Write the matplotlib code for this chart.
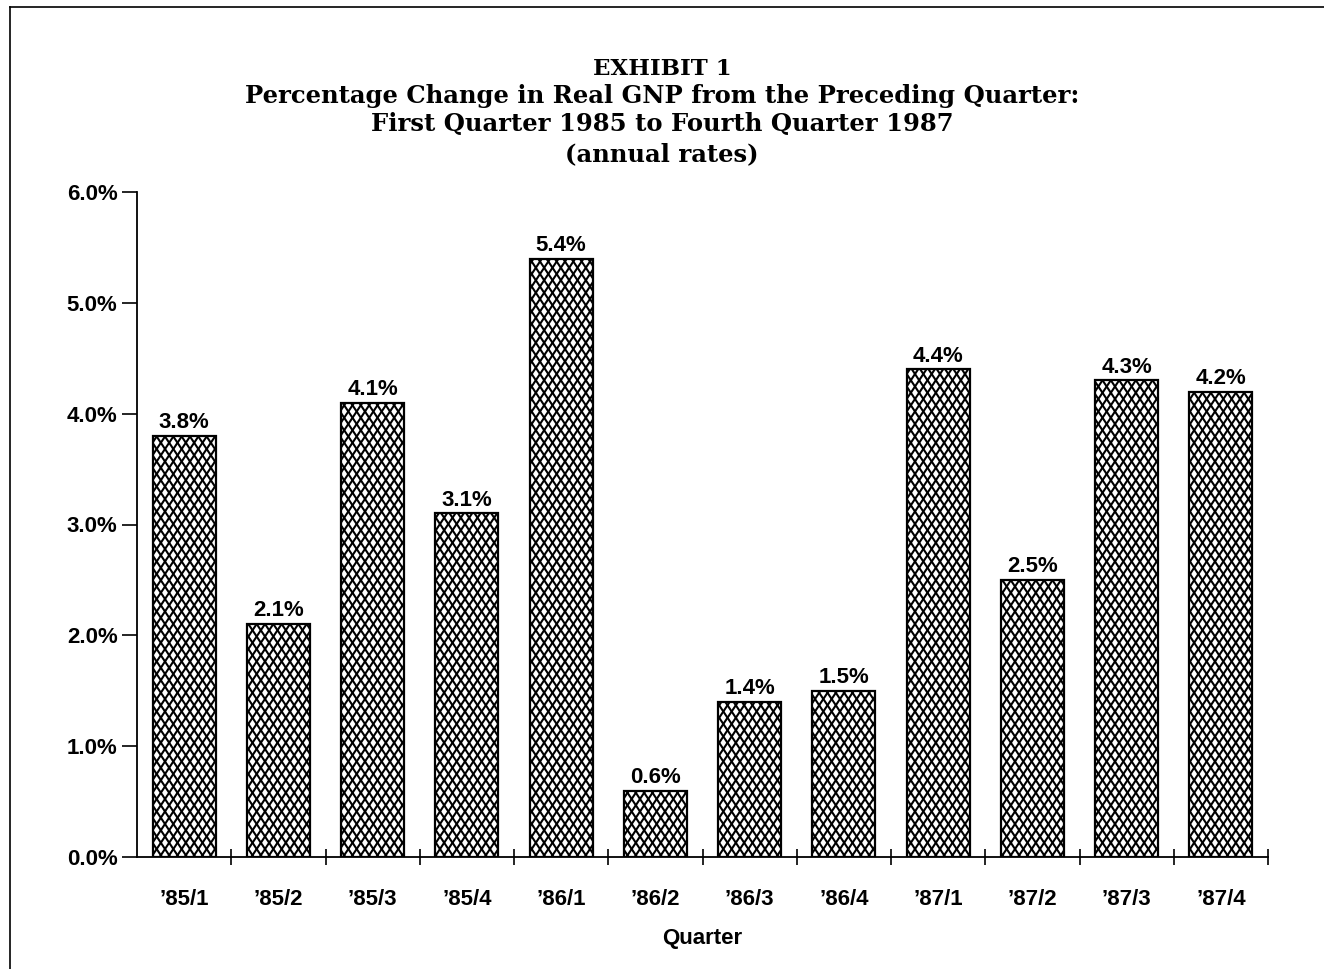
import matplotlib
matplotlib.use("Agg")
import matplotlib.pyplot as plt
from matplotlib.lines import Line2D
from matplotlib.collections import LineCollection
from matplotlib.transforms import IdentityTransform
import numpy as np

quarters = ["\u201985/1", "\u201985/2", "\u201985/3", "\u201985/4",
            "\u201986/1", "\u201986/2", "\u201986/3", "\u201986/4",
            "\u201987/1", "\u201987/2", "\u201987/3", "\u201987/4"]
gnp_change = [3.8, 2.1, 4.1, 3.1, 5.4, 0.6, 1.4, 1.5, 4.4, 2.5, 4.3, 4.2]
y_ticks = [0.0, 1.0, 2.0, 3.0, 4.0, 5.0, 6.0]

SANS = ["Liberation Sans", "DejaVu Sans"]
SERIF = ["DejaVu Serif"]
LABEL_SIZE = 16

W, H, DPI = 1324, 969, 100
fig = plt.figure(figsize=(W / DPI, H / DPI), dpi=DPI)
fig.patch.set_facecolor("white")

def px_x(x):
    return x / W

def px_y(y):
    return 1 - y / H

ax = fig.add_axes([px_x(137), px_y(857), px_x(1268) - px_x(137), px_y(192) - px_y(857)])

x = np.arange(len(quarters))
ax.set_xlim(-0.5, len(quarters) - 0.5)
ax.set_ylim(0, 6)

bars = ax.bar(x, gnp_change, width=0.67, facecolor="white", edgecolor="black",
              linewidth=1.6, zorder=2)

# diamond cross-hatch texture (tall diamonds), laid out in pixel space
bb = ax.bbox
x0, y0, x1, y1 = bb.x0, bb.y0, bb.x1, bb.y1
slope, step = 1.5, 12.5
span = slope * (x1 - x0)
segs = []
for c in np.arange(-span, (y1 - y0) + step, step):
    segs.append([(x0, y0 + c), (x1, y0 + c + span)])
for c in np.arange(0, (y1 - y0) + span + step, step):
    segs.append([(x0, y0 + c), (x1, y0 + c - span)])
for bar in bars:
    lc = LineCollection(segs, colors="black", linewidths=1.5,
                        transform=IdentityTransform(), zorder=2.5)
    ax.add_collection(lc, autolim=False)
    lc.set_clip_path(bar)

for xi, v in zip(x, gnp_change):
    ax.annotate(f"{v:.1f}%", (xi, v), xytext=(0, 2), textcoords="offset points",
                ha="center", va="bottom", fontsize=LABEL_SIZE, fontweight="bold",
                family=SANS)

for side in ("top", "right"):
    ax.spines[side].set_visible(False)
for side in ("left", "bottom"):
    ax.spines[side].set_linewidth(1.3)

ax.set_yticks(y_ticks)
ax.set_yticklabels([f"{t:.1f}%" for t in y_ticks], fontsize=LABEL_SIZE,
                   fontweight="bold", family=SANS)
ax.tick_params(axis="y", direction="out", length=11, width=1.2, pad=3)

ax.set_xticks(x)
ax.set_xticklabels(quarters, fontsize=LABEL_SIZE, fontweight="bold", family=SANS)
ax.tick_params(axis="x", which="major", length=0, pad=23)
ax.set_xticks(np.arange(0.5, len(quarters), 1.0), minor=True)
ax.tick_params(axis="x", which="minor", direction="inout", length=12, width=1.2)

ax.set_xlabel("Quarter", fontsize=LABEL_SIZE, fontweight="bold", family=SANS,
              labelpad=13)

title_lines = [
    ("EXHIBIT 1", 69, 16.5),
    ("Percentage Change in Real GNP from the Preceding Quarter:", 96, 17.5),
    ("First Quarter 1985 to Fourth Quarter 1987", 124, 17.5),
    ("(annual rates)", 154, 17.5),
]
for text, ypix, size in title_lines:
    fig.text(0.5, px_y(ypix), text, ha="center", va="center",
             fontsize=size, fontweight="bold", family=SERIF)

# page frame
fig.add_artist(Line2D([px_x(10), 1.0], [px_y(7), px_y(7)], color="black", lw=1.2))
fig.add_artist(Line2D([px_x(10), px_x(10)], [0.0, px_y(7)], color="black", lw=1.2))

fig.savefig("out.png", dpi=DPI)
